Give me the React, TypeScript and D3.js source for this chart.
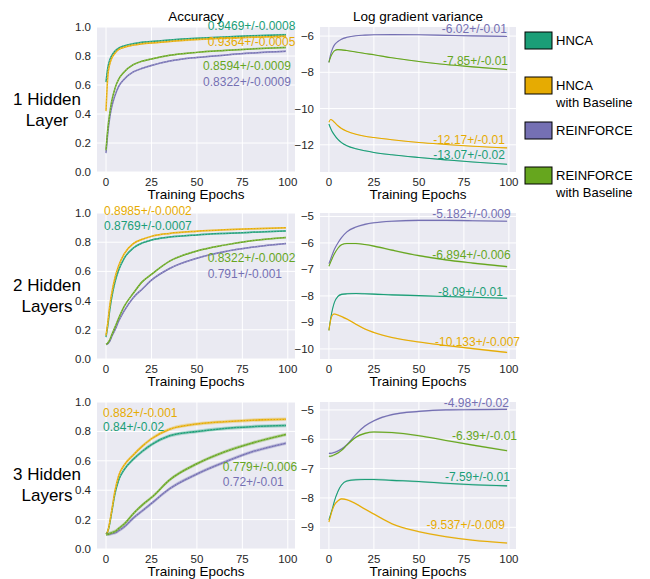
import React from "react";
import * as d3 from "d3";

const EPOCHS = [0, 1, 2, 3, 5, 7, 10, 15, 20, 25, 35, 50, 65, 80, 99];

const SERIES = ["HNCA", "HNCA with Baseline", "REINFORCE", "REINFORCE with Baseline"];
const COLORS = ["#1b9e77", "#e6ab02", "#7570b3", "#66a61e"];

// accuracy, order of SERIES
const ACC_1 = [
  [0.62, 0.72, 0.77, 0.8, 0.835, 0.855, 0.87, 0.885, 0.895, 0.9, 0.91, 0.922, 0.931, 0.939, 0.947],
  [0.42, 0.66, 0.74, 0.78, 0.82, 0.845, 0.86, 0.875, 0.885, 0.89, 0.9, 0.913, 0.922, 0.929, 0.936],
  [0.13, 0.27, 0.37, 0.44, 0.53, 0.59, 0.64, 0.69, 0.715, 0.735, 0.765, 0.79, 0.806, 0.82, 0.832],
  [0.15, 0.3, 0.4, 0.48, 0.58, 0.64, 0.69, 0.74, 0.765, 0.78, 0.805, 0.825, 0.838, 0.849, 0.859],
];
const ACC_2 = [
  [0.15, 0.23, 0.33, 0.41, 0.53, 0.61, 0.69, 0.76, 0.795, 0.815, 0.835, 0.85, 0.86, 0.868, 0.877],
  [0.16, 0.25, 0.36, 0.44, 0.56, 0.64, 0.72, 0.79, 0.82, 0.84, 0.86, 0.875, 0.885, 0.892, 0.8985],
  [0.1, 0.105, 0.12, 0.15, 0.2, 0.26, 0.33, 0.42, 0.48, 0.54, 0.62, 0.69, 0.735, 0.765, 0.791],
  [0.1, 0.11, 0.13, 0.16, 0.22, 0.28, 0.36, 0.45, 0.53, 0.58, 0.67, 0.74, 0.78, 0.81, 0.832],
];
const ACC_3 = [
  [0.1, 0.12, 0.17, 0.24, 0.38, 0.47, 0.54, 0.61, 0.665, 0.71, 0.77, 0.8, 0.82, 0.832, 0.84],
  [0.1, 0.12, 0.18, 0.25, 0.4, 0.5, 0.57, 0.64, 0.7, 0.75, 0.815, 0.85, 0.866, 0.876, 0.882],
  [0.1, 0.1, 0.1, 0.105, 0.11, 0.125, 0.15, 0.21, 0.26, 0.31, 0.41, 0.51, 0.59, 0.66, 0.72],
  [0.1, 0.1, 0.105, 0.11, 0.12, 0.14, 0.17, 0.24, 0.3, 0.35, 0.47, 0.58, 0.66, 0.72, 0.779],
];

// log gradient variance, order of SERIES
const VAR_1 = [
  [-10.85, -11.1, -11.3, -11.45, -11.7, -11.88, -12.05, -12.22, -12.33, -12.42, -12.55, -12.7, -12.83, -12.95, -13.07],
  [-10.75, -10.6, -10.65, -10.75, -10.95, -11.1, -11.25, -11.42, -11.53, -11.6, -11.72, -11.87, -11.98, -12.08, -12.17],
  [-7.45, -7.0, -6.7, -6.5, -6.3, -6.17, -6.07, -5.98, -5.95, -5.93, -5.92, -5.93, -5.96, -5.99, -6.02],
  [-7.45, -7.15, -6.95, -6.82, -6.75, -6.76, -6.8, -6.88, -6.96, -7.03, -7.2, -7.4, -7.57, -7.7, -7.85],
];
const VAR_2 = [
  [-9.3, -8.85, -8.5, -8.25, -8.02, -7.94, -7.92, -7.91, -7.92, -7.93, -7.96, -7.99, -8.02, -8.05, -8.09],
  [-9.3, -8.9, -8.72, -8.68, -8.72, -8.78, -8.87, -9.07, -9.25, -9.38, -9.57, -9.74, -9.87, -9.99, -10.133],
  [-6.78, -6.6, -6.42, -6.25, -6.0, -5.8, -5.58, -5.4, -5.3, -5.24, -5.18, -5.15, -5.15, -5.16, -5.182],
  [-6.88, -6.72, -6.56, -6.42, -6.2, -6.07, -6.02, -6.02, -6.06, -6.12, -6.27, -6.48, -6.64, -6.76, -6.894],
];
const VAR_3 = [
  [-8.75, -8.55, -8.35, -8.12, -7.78, -7.56, -7.42, -7.38, -7.37, -7.37, -7.4, -7.44, -7.5, -7.55, -7.59],
  [-8.82, -8.6, -8.4, -8.25, -8.1, -8.03, -8.06, -8.2, -8.38, -8.55, -8.88, -9.15, -9.32, -9.44, -9.537],
  [-6.48, -6.48, -6.47, -6.45, -6.4, -6.33, -6.18, -5.83, -5.55, -5.37, -5.16, -5.05, -5.0, -4.99, -4.98],
  [-6.58, -6.58, -6.56, -6.53, -6.47, -6.38, -6.2, -5.93, -5.8, -5.75, -5.77, -5.88, -6.04, -6.2, -6.39],
];

// half width of the shaded spread
const ACC_SPREAD = [0.006, 0.006, 0.012];
const VAR_SPREAD = [0.03, 0.03, 0.03];

// final value labels, order of SERIES
const ACC_LABELS = [
  ["0.9469+/-0.0008", "0.9364+/-0.0005", "0.8322+/-0.0009", "0.8594+/-0.0009"],
  ["0.8769+/-0.0007", "0.8985+/-0.0002", "0.791+/-0.001", "0.8322+/-0.0002"],
  ["0.84+/-0.02", "0.882+/-0.001", "0.72+/-0.01", "0.779+/-0.006"],
];
const VAR_LABELS = [
  ["-13.07+/-0.02", "-12.17+/-0.01", "-6.02+/-0.01", "-7.85+/-0.01"],
  ["-8.09+/-0.01", "-10.133+/-0.007", "-5.182+/-0.009", "-6.894+/-0.006"],
  ["-7.59+/-0.01", "-9.537+/-0.009", "-4.98+/-0.02", "-6.39+/-0.01"],
];
// where each label sits, in data units [epoch, value]
const ACC_LABEL_AT = [
  [[55.9, 1.007], [55.9, 0.897], [53.4, 0.621], [53.4, 0.731]],
  [[-1.1, 0.911], [-1.1, 1.014], [55.9, 0.582], [55.9, 0.692]],
  [[-1.6, 0.83], [-1.6, 0.925], [64.2, 0.458], [64.2, 0.56]],
];
const VAR_LABEL_AT = [
  [[97.8, -12.56], [97.8, -11.73], [98.9, -5.61], [99.5, -7.38]],
  [[96.7, -7.85], [106.2, -9.727], [101, -4.91], [101, -6.455]],
  [[100.6, -7.286], [97.8, -8.92], [100, -4.764], [104.5, -5.889]],
];

const ROW_NAMES = [["1 Hidden", "Layer"], ["2 Hidden", "Layers"], ["3 Hidden", "Layers"]];
const X_TICKS = [0, 25, 50, 75, 100];
const ACC_TICKS = [0, 0.2, 0.4, 0.6, 0.8, 1.0];
const VAR_DOMAINS = [[-13.5, -5.5], [-10.38, -4.87], [-9.74, -4.73]];
const VAR_TICKS = [[-12, -10, -8, -6], [-10, -9, -8, -7, -6, -5], [-9, -8, -7, -6, -5]];

const ROW_Y = [[27, 172], [213, 359], [402, 549]];
const LEFT_X: [number, number] = [97, 295];
const RIGHT_X: [number, number] = [320, 516];
const FONT = "'Liberation Sans', Arial, sans-serif";
const TEXT = "#262626";

type PanelProps = {
  xr: [number, number];
  yr: number[];
  domain: number[];
  ticks: number[];
  fmt: (v: number) => string;
  data: number[][];
  spread: number;
  dashed: boolean;
  labels: string[];
  labelAt: number[][];
  anchor: "start" | "end";
  title?: string;
};

function Panel({ xr, yr, domain, ticks, fmt, data, spread, dashed, labels, labelAt, anchor, title }: PanelProps) {
  const x = d3.scaleLinear().domain([-4.95, 103.95]).range(xr);
  const y = d3.scaleLinear().domain(domain).range([yr[1], yr[0]]);
  const line = d3.line<number>().x((_, i) => x(EPOCHS[i])).y((d) => y(d)).curve(d3.curveMonotoneX);
  const area = d3
    .area<number>()
    .x((_, i) => x(EPOCHS[i]))
    .y0((d) => y(d - spread))
    .y1((d) => y(d + spread))
    .curve(d3.curveMonotoneX);
  const cx = (xr[0] + xr[1]) / 2;
  return (
    <g fontFamily={FONT}>
      <rect x={xr[0]} y={yr[0]} width={xr[1] - xr[0]} height={yr[1] - yr[0]} fill="#eaeaf2" />
      {ticks.map((t) => (
        <line key={"h" + t} x1={xr[0]} x2={xr[1]} y1={y(t)} y2={y(t)} stroke="#fff" strokeWidth={1} />
      ))}
      {X_TICKS.map((t) => (
        <line key={"v" + t} x1={x(t)} x2={x(t)} y1={yr[0]} y2={yr[1]} stroke="#fff" strokeWidth={1} />
      ))}
      {data.map((s, i) => (
        <g key={i}>
          <path d={area(s) || ""} fill={COLORS[i]} opacity={0.3} />
          <path d={line(s) || ""} fill="none" stroke={COLORS[i]} strokeWidth={dashed ? 1.5 : 1.1} />
          {dashed && (
            <path d={line(s) || ""} fill="none" stroke="#fff" strokeOpacity={0.35} strokeWidth={0.8} strokeDasharray="1.5,1.5" />
          )}
        </g>
      ))}
      {ticks.map((t) => (
        <text key={"yl" + t} x={xr[0] - 6} y={y(t)} dy="0.35em" textAnchor="end" fontSize={11.5} fill={TEXT}>
          {fmt(t)}
        </text>
      ))}
      {X_TICKS.map((t) => (
        <text key={"xl" + t} x={x(t)} y={yr[1] + 10} dy="0.35em" textAnchor="middle" fontSize={11.5} fill={TEXT}>
          {t}
        </text>
      ))}
      <text x={cx} y={yr[1] + 22.3} dy="0.35em" textAnchor="middle" fontSize={13.5} fill="#000">
        Training Epochs
      </text>
      {title && (
        <text x={cx} y={16} dy="0.35em" textAnchor="middle" fontSize={13.5} fill="#000">
          {title}
        </text>
      )}
      {labels.map((l, i) => (
        <text
          key={"a" + i}
          x={x(labelAt[i][0])}
          y={y(labelAt[i][1])}
          dy="0.35em"
          textAnchor={anchor}
          fontSize={12}
          fill={COLORS[i]}
        >
          {l}
        </text>
      ))}
    </g>
  );
}

const LEGEND_LINES = [["HNCA"], ["HNCA", "with Baseline"], ["REINFORCE"], ["REINFORCE", "with Baseline"]];
const LEGEND_TOPS = [32, 77, 122, 167];

export default function App() {
  const acc = [ACC_1, ACC_2, ACC_3];
  const vr = [VAR_1, VAR_2, VAR_3];
  const accFmt = d3.format(".1f");
  const varFmt = (v: number) => String(v).replace("-", "\u2212");
  return (
    <svg width={650} height={579} style={{ position: "absolute", left: 0, top: 0 }}>
      <rect width={650} height={579} fill="#fff" />
      {ROW_Y.map((yr, r) => (
        <g key={r}>
          <Panel
            xr={LEFT_X}
            yr={yr}
            domain={[0, 1]}
            ticks={ACC_TICKS}
            fmt={accFmt}
            data={acc[r]}
            spread={ACC_SPREAD[r]}
            dashed={true}
            labels={ACC_LABELS[r]}
            labelAt={ACC_LABEL_AT[r]}
            anchor="start"
            title={r === 0 ? "Accuracy" : undefined}
          />
          <Panel
            xr={RIGHT_X}
            yr={yr}
            domain={VAR_DOMAINS[r]}
            ticks={VAR_TICKS[r]}
            fmt={varFmt}
            data={vr[r]}
            spread={VAR_SPREAD[r]}
            dashed={false}
            labels={VAR_LABELS[r]}
            labelAt={VAR_LABEL_AT[r]}
            anchor="end"
            title={r === 0 ? "Log gradient variance" : undefined}
          />
          {ROW_NAMES[r].map((t, k) => (
            <text key={k} x={47} y={yr[0] + 72 + k * 21} dy="0.35em" textAnchor="middle" fontSize={17} fontFamily={FONT} fill="#000">
              {t}
            </text>
          ))}
        </g>
      ))}
      {SERIES.map((s, i) => (
        <g key={s} fontFamily={FONT}>
          <rect x={525} y={LEGEND_TOPS[i]} width={27} height={17} fill={COLORS[i]} stroke="#000" strokeWidth={1} />
          {LEGEND_LINES[i].map((t, k) => (
            <text key={k} x={556} y={LEGEND_TOPS[i] + 8.5 + k * 16.5} dy="0.35em" fontSize={13} fill="#000">
              {t}
            </text>
          ))}
        </g>
      ))}
    </svg>
  );
}
